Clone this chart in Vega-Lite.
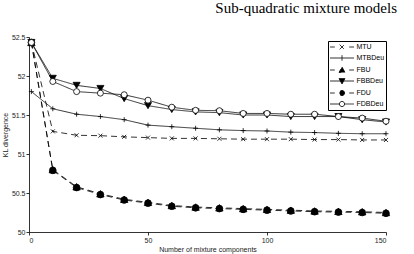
{
  "$schema": "https://vega.github.io/schema/vega-lite/v6.json",
  "width": 357,
  "height": 195,
  "autosize": {"type": "none"},
  "padding": {"left": 29, "top": 37, "right": 28, "bottom": 22},
  "background": "white",
  "title": {"text": "Sub-quadratic mixture models", "anchor": "end", "frame": "group", "font": "Liberation Serif", "fontSize": 15, "fontWeight": "normal", "color": "black", "offset": 5, "baseline": "alphabetic", "dx": 11},
  "config": {
    "view": {"stroke": null},
    "axis": {"grid": false, "domainColor": "black", "domainWidth": 0.8, "tickColor": "black", "tickWidth": 0.8, "tickSize": 3, "labelFont": "Liberation Sans", "labelFontSize": 7, "labelColor": "#222", "titleFont": "Liberation Sans", "titleFontSize": 7, "titleFontWeight": "normal", "titleColor": "#222"}
  },
  "data": {"values": [
    {"series": "MTU", "x": 1, "kl": 52.43}, {"series": "MTU", "x": 10, "kl": 51.29}, {"series": "MTU", "x": 20, "kl": 51.24}, {"series": "MTU", "x": 30, "kl": 51.235}, {"series": "MTU", "x": 40, "kl": 51.22}, {"series": "MTU", "x": 50, "kl": 51.21}, {"series": "MTU", "x": 60, "kl": 51.2}, {"series": "MTU", "x": 70, "kl": 51.2}, {"series": "MTU", "x": 80, "kl": 51.195}, {"series": "MTU", "x": 90, "kl": 51.19}, {"series": "MTU", "x": 100, "kl": 51.19}, {"series": "MTU", "x": 110, "kl": 51.19}, {"series": "MTU", "x": 120, "kl": 51.185}, {"series": "MTU", "x": 130, "kl": 51.185}, {"series": "MTU", "x": 140, "kl": 51.18}, {"series": "MTU", "x": 150, "kl": 51.18},
    {"series": "MTBDeu", "x": 1, "kl": 51.8}, {"series": "MTBDeu", "x": 10, "kl": 51.58}, {"series": "MTBDeu", "x": 20, "kl": 51.51}, {"series": "MTBDeu", "x": 30, "kl": 51.48}, {"series": "MTBDeu", "x": 40, "kl": 51.44}, {"series": "MTBDeu", "x": 50, "kl": 51.37}, {"series": "MTBDeu", "x": 60, "kl": 51.35}, {"series": "MTBDeu", "x": 70, "kl": 51.33}, {"series": "MTBDeu", "x": 80, "kl": 51.31}, {"series": "MTBDeu", "x": 90, "kl": 51.3}, {"series": "MTBDeu", "x": 100, "kl": 51.295}, {"series": "MTBDeu", "x": 110, "kl": 51.28}, {"series": "MTBDeu", "x": 120, "kl": 51.275}, {"series": "MTBDeu", "x": 130, "kl": 51.265}, {"series": "MTBDeu", "x": 140, "kl": 51.26}, {"series": "MTBDeu", "x": 150, "kl": 51.26},
    {"series": "FBU", "x": 1, "kl": 52.43}, {"series": "FBU", "x": 10, "kl": 50.8}, {"series": "FBU", "x": 20, "kl": 50.58}, {"series": "FBU", "x": 30, "kl": 50.49}, {"series": "FBU", "x": 40, "kl": 50.42}, {"series": "FBU", "x": 50, "kl": 50.38}, {"series": "FBU", "x": 60, "kl": 50.34}, {"series": "FBU", "x": 70, "kl": 50.32}, {"series": "FBU", "x": 80, "kl": 50.31}, {"series": "FBU", "x": 90, "kl": 50.3}, {"series": "FBU", "x": 100, "kl": 50.29}, {"series": "FBU", "x": 110, "kl": 50.28}, {"series": "FBU", "x": 120, "kl": 50.27}, {"series": "FBU", "x": 130, "kl": 50.265}, {"series": "FBU", "x": 140, "kl": 50.26}, {"series": "FBU", "x": 150, "kl": 50.25},
    {"series": "FBBDeu", "x": 1, "kl": 52.43}, {"series": "FBBDeu", "x": 10, "kl": 51.97}, {"series": "FBBDeu", "x": 20, "kl": 51.88}, {"series": "FBBDeu", "x": 30, "kl": 51.84}, {"series": "FBBDeu", "x": 40, "kl": 51.71}, {"series": "FBBDeu", "x": 50, "kl": 51.62}, {"series": "FBBDeu", "x": 60, "kl": 51.57}, {"series": "FBBDeu", "x": 70, "kl": 51.54}, {"series": "FBBDeu", "x": 80, "kl": 51.53}, {"series": "FBBDeu", "x": 90, "kl": 51.5}, {"series": "FBBDeu", "x": 100, "kl": 51.5}, {"series": "FBBDeu", "x": 110, "kl": 51.48}, {"series": "FBBDeu", "x": 120, "kl": 51.48}, {"series": "FBBDeu", "x": 130, "kl": 51.48}, {"series": "FBBDeu", "x": 140, "kl": 51.44}, {"series": "FBBDeu", "x": 150, "kl": 51.41},
    {"series": "FDU", "x": 1, "kl": 52.43}, {"series": "FDU", "x": 10, "kl": 50.79}, {"series": "FDU", "x": 20, "kl": 50.57}, {"series": "FDU", "x": 30, "kl": 50.48}, {"series": "FDU", "x": 40, "kl": 50.41}, {"series": "FDU", "x": 50, "kl": 50.37}, {"series": "FDU", "x": 60, "kl": 50.33}, {"series": "FDU", "x": 70, "kl": 50.31}, {"series": "FDU", "x": 80, "kl": 50.3}, {"series": "FDU", "x": 90, "kl": 50.29}, {"series": "FDU", "x": 100, "kl": 50.28}, {"series": "FDU", "x": 110, "kl": 50.27}, {"series": "FDU", "x": 120, "kl": 50.26}, {"series": "FDU", "x": 130, "kl": 50.255}, {"series": "FDU", "x": 140, "kl": 50.25}, {"series": "FDU", "x": 150, "kl": 50.24},
    {"series": "FDBDeu", "x": 1, "kl": 52.43}, {"series": "FDBDeu", "x": 10, "kl": 51.93}, {"series": "FDBDeu", "x": 20, "kl": 51.8}, {"series": "FDBDeu", "x": 30, "kl": 51.78}, {"series": "FDBDeu", "x": 40, "kl": 51.76}, {"series": "FDBDeu", "x": 50, "kl": 51.69}, {"series": "FDBDeu", "x": 60, "kl": 51.6}, {"series": "FDBDeu", "x": 70, "kl": 51.56}, {"series": "FDBDeu", "x": 80, "kl": 51.555}, {"series": "FDBDeu", "x": 90, "kl": 51.52}, {"series": "FDBDeu", "x": 100, "kl": 51.52}, {"series": "FDBDeu", "x": 110, "kl": 51.51}, {"series": "FDBDeu", "x": 120, "kl": 51.51}, {"series": "FDBDeu", "x": 130, "kl": 51.48}, {"series": "FDBDeu", "x": 140, "kl": 51.46}, {"series": "FDBDeu", "x": 150, "kl": 51.42}
  ]},
  "encoding": {
    "x": {"field": "x", "type": "quantitative", "scale": {"domain": [0, 150], "nice": false}, "axis": {"values": [0, 50, 100, 150], "title": "Number of mixture components", "labelPadding": 1, "titlePadding": 2}},
    "y": {"field": "kl", "type": "quantitative", "scale": {"domain": [50, 52.5], "nice": false, "zero": false}, "axis": {"values": [50, 50.5, 51, 51.5, 52, 52.5], "format": "~g", "title": "KL divergence", "labelPadding": 1, "titlePadding": 3}}
  },
  "layer": [
    {
      "mark": {"type": "line", "stroke": "black", "strokeWidth": 0.8},
      "encoding": {
        "strokeDash": {"field": "series", "type": "nominal",
          "scale": {"domain": ["MTU", "MTBDeu", "FBU", "FBBDeu", "FDU", "FDBDeu"], "range": [[6, 4], [1, 0], [6, 4], [1, 0], [6, 4], [1, 0]]},
          "legend": {"title": null, "orient": "none", "legendX": 299, "legendY": 4, "strokeColor": "black", "fillColor": "white", "padding": 1.5, "rowPadding": 2, "symbolSize": 64, "symbolOffset": 8, "labelOffset": 10, "labelFont": "Liberation Sans", "labelFontSize": 7, "labelColor": "black", "symbolStrokeWidth": 0.8, "symbolStrokeColor": "black",
            "encode": {"symbols": {"update": {
              "shape": {"signal": "datum.value === 'MTU' ? 'M-3,0H-1.8M-0.6,-0.6L0.6,0.6M-0.6,0.6L0.6,-0.6M1.8,0H3' : datum.value === 'MTBDeu' ? 'M-3,0H3M0,-0.7V0.7' : datum.value === 'FBU' ? 'M-3,0H-1.8M0,-0.75L0.75,0.6L-0.75,0.6ZM1.8,0H3' : datum.value === 'FBBDeu' ? 'M-3,0H3M0,0.75L0.75,-0.6L-0.75,-0.6Z' : datum.value === 'FDU' ? 'M-3,0H-1.8M0.65,0A0.65,0.65 0 1,1 -0.65,0A0.65,0.65 0 1,1 0.65,0ZM1.8,0H3' : 'M-3,0H-0.65M0.65,0H3M0.65,0A0.65,0.65 0 1,1 -0.65,0A0.65,0.65 0 1,1 0.65,0Z'"},
              "fill": {"signal": "datum.value === 'MTU' || datum.value === 'MTBDeu' ? 'transparent' : datum.value === 'FDBDeu' ? 'white' : 'black'"},
              "stroke": {"value": "black"},
              "strokeDash": {"value": [1, 0]},
              "strokeWidth": {"value": 0.8},
              "opacity": {"value": 1}
            }}}
          }
        }
      }
    },
    {
      "mark": {"type": "point", "stroke": "black", "strokeWidth": 0.8, "opacity": 1},
      "encoding": {
        "shape": {"field": "series", "type": "nominal", "legend": null,
          "scale": {"range": ["triangle-down", "triangle-up", "circle", "circle", "M-1,0H1M0,-1V1", "M-1,-1L1,1M-1,1L1,-1"]}},
        "fill": {"field": "series", "type": "nominal", "legend": null,
          "scale": {"range": ["black", "black", "white", "black", "transparent", "transparent"]}},
        "size": {"field": "series", "type": "nominal", "legend": null,
          "scale": {"type": "ordinal", "range": [50, 55, 36, 45, 25, 16]}}
      }
    }
  ]
}
